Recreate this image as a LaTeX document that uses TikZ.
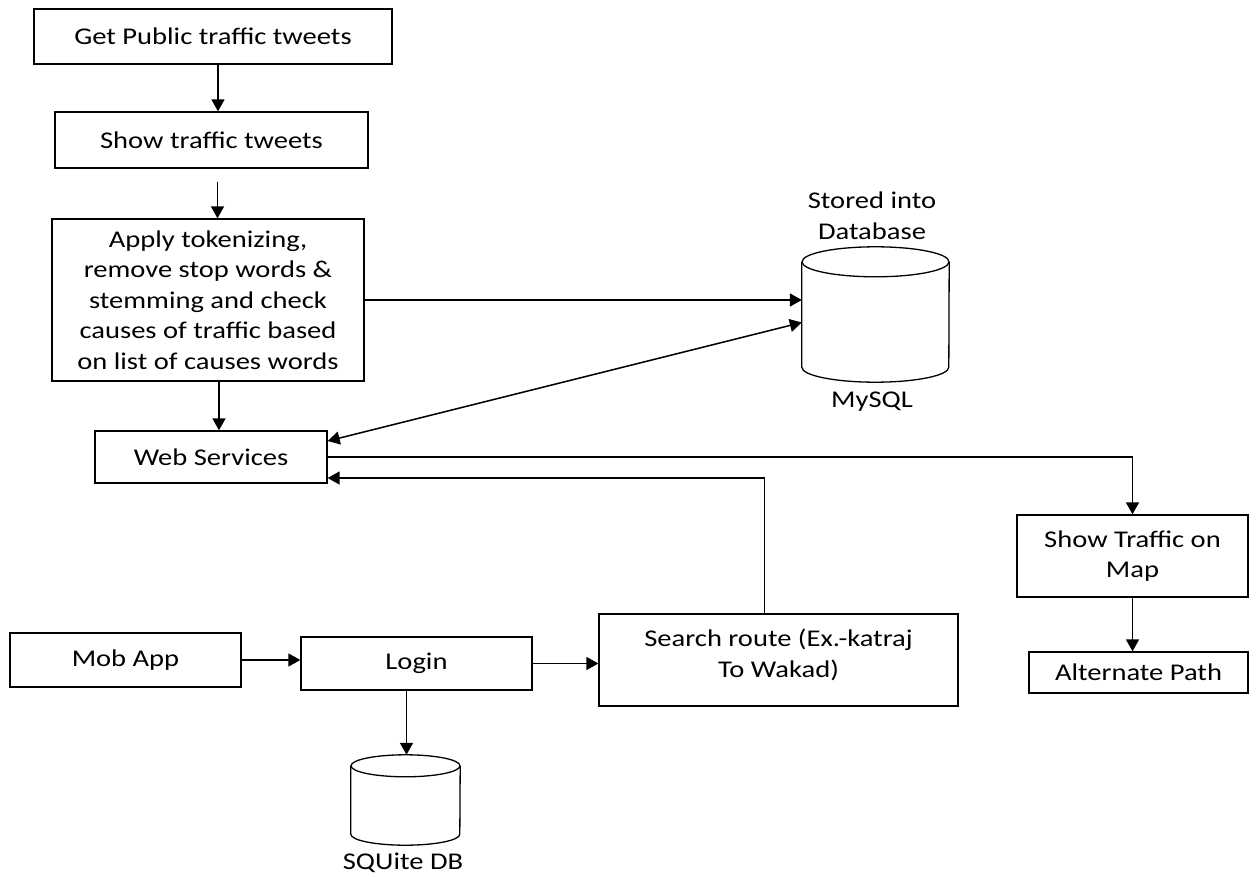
\documentclass[tikz,border=0pt]{standalone}
\usepackage{fontspec}
\setmainfont{Carlito}[FakeStretch=1.19]
\usetikzlibrary{arrows.meta}

\begin{document}
\begin{tikzpicture}[x=1pt, y=-1pt,
        font=\fontsize{24}{30.5}\selectfont,
        box/.style={draw, line width=1.3pt, inner sep=0pt, align=center},
        dbnode/.style={inner sep=0pt},
        link/.style={line width=1.5pt, -{Triangle[length=12pt,width=13pt]}}]
    \useasboundingbox (0,0) rectangle (1249,874);
    % tweet processing column
    \node[box, minimum width=358pt, minimum height=55pt] (get) at (213,36.5) {Get Public traffic tweets};
    \node[box, minimum width=313pt, minimum height=56pt] (show) at (211.5,140) {Show traffic tweets};
    \node[box, minimum width=312pt, minimum height=162pt] (apply) at (208,300) {Apply tokenizing,\\remove stop words \&\\stemming and check\\causes of traffic based\\on list of causes words};
    \node[box, minimum width=232pt, minimum height=52pt] (web) at (211,457) {Web Services};
    % right side
    \node[box, minimum width=231pt, minimum height=82pt] (map) at (1132.5,556) {Show Traffic on\\Map};
    \node[box, minimum width=219pt, minimum height=41pt] (alt) at (1138.5,672.5) {Alternate Path};
    % mobile app row
    \node[box, minimum width=231pt, minimum height=54pt] (mob) at (125.5,660) {Mob App};
    \node[box, minimum width=231pt, minimum height=53pt] (login) at (416.5,663.5) {Login};
    \node[box, minimum width=359pt, minimum height=92pt, text height=38pt] (search) at (778.5,660) {Search route (Ex.-katraj\\To Wakad)};
    % databases
    \node[dbnode, minimum width=147pt, minimum height=135pt] (mysql) at (875.5,314.5) {};
    \node[dbnode, minimum width=109pt, minimum height=90pt] (sqlite) at (405.5,800) {};
    \foreach \db/\ry/\rx in {mysql/15/73.5, sqlite/11/54.5} {
        \draw[line width=1.3pt] ([yshift=-\ry pt]\db.north) ellipse [x radius=\rx pt, y radius=\ry pt];
        \draw[line width=1.3pt] ([yshift=-\ry pt]\db.north west) -- ([yshift=\ry pt]\db.south west)
            arc [start angle=180, end angle=360, x radius=\rx pt, y radius=\ry pt] -- ([yshift=-\ry pt]\db.north east);
    }
    \node[align=center] (storedlbl) at (872,216) {Stored into\\Database};
    \node (mysqllbl) at (872,402) {MySQL};
    \node (sqlitelbl) at (403,863) {SQUite DB};
    % connectors
    \draw[link] ([xshift=5pt]get.south) -- ([xshift=5pt]get.south |- show.north);
    \draw[link] ([xshift=6pt,yshift=-13pt]show.south) -- ([xshift=6pt]show.south |- apply.north);
    \draw[link] ([xshift=11pt]apply.south) -- ([xshift=11pt]apply.south |- web.north);
    \draw[link] (apply.east) -- (apply.east -| mysql.west);
    \draw[link, <->, >={Triangle[length=12pt,width=13pt]}] ([yshift=16pt]web.east) -- ([yshift=-8pt]mysql.west);
    \draw[link] (web.east) -| (map.north);
    \draw[link] ([xshift=-14pt]search.north) |- ([yshift=-21pt]web.east);
    \draw[link] (map.south) -- (map.south |- alt.north);
    \draw[link] (mob.east) -- (mob.east -| login.west);
    \draw[link] (login.east) -- (login.east -| search.west);
    \draw[link] ([xshift=-10pt]login.south) -- ([xshift=-10pt]login.south |- sqlite.north);
\end{tikzpicture}
\end{document}
